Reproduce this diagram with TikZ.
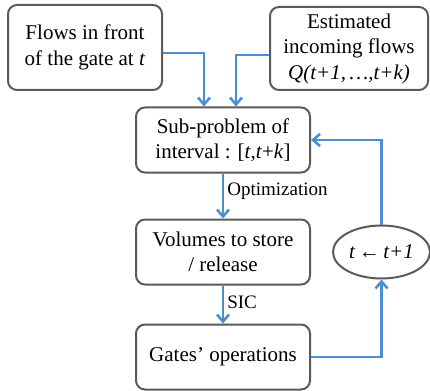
\documentclass[tikz,border=0pt]{standalone}
\usepackage{fontspec}
\setmainfont{Liberation Serif}
\usetikzlibrary{positioning,shapes,arrows.meta}
\definecolor{flowblue}{HTML}{4A90D0}
\definecolor{boxgray}{HTML}{5A5A5A}
\tikzstyle{block} = [rectangle, draw=boxgray, line width=2pt, align=center,
    text centered, rounded corners=9pt, minimum width=174pt, minimum height=65pt,
    font=\fontsize{21}{25.5}\selectfont]
\tikzstyle{counter} = [ellipse, draw=boxgray, line width=2pt, inner sep=0pt,
    minimum width=97pt, minimum height=53pt, font=\fontsize{21}{25.5}\selectfont]
\tikzstyle{line} = [draw=flowblue, line width=2.6pt, -{Straight Barb[length=7pt,width=12pt]}]
\tikzstyle{lbl} = [font=\fontsize{19}{22}\selectfont, inner sep=3pt]

\begin{document}
\begin{tikzpicture}[x=1pt, y=-1pt, node distance = 40pt, auto]
        \useasboundingbox (0,0) rectangle (430,390);
        % Place nodes
        \node [block] (Sub) at (223,140) {Sub-problem of\\interval : [\textit{t},\textit{t}+\textit{k}]};
        \node [block, below=45pt of Sub] (Volumes) {Volumes to store\\/ release};
        \node [block, below=38pt of Volumes] (Gates) {Gates' operations};
        \node [block, minimum width=154pt, minimum height=85pt] (Flows) at (85,47.5) {Flows in front\\of the gate at \textit{t}};
        \node [block, minimum width=158pt, minimum height=83pt] (Estimated) at (349,48.5) {Estimated\\incoming flows\\\textit{Q(t+1,\,…,t+k)}};
        \node [counter, right=21pt of Volumes] (Step) {\textit{t}\,←\,\textit{t+1}};
        % Draw edges
        \path [line] ([yshift=-5.5pt]Flows.east) -| ([xshift=-19pt]Sub.north);
        \path [line] ([yshift=-6.5pt]Estimated.west) -| ([xshift=13pt]Sub.north);
        \path [line] (Sub) -- node [lbl, pos=0.4] {Optimization} (Volumes);
        \path [line] (Volumes) -- node [lbl, pos=0.45] {SIC} (Gates);
        \path [line] (Gates.east) -| (Step.south);
        \path [line] (Step.north) |- (Sub.east);
    \end{tikzpicture}
\end{document}
